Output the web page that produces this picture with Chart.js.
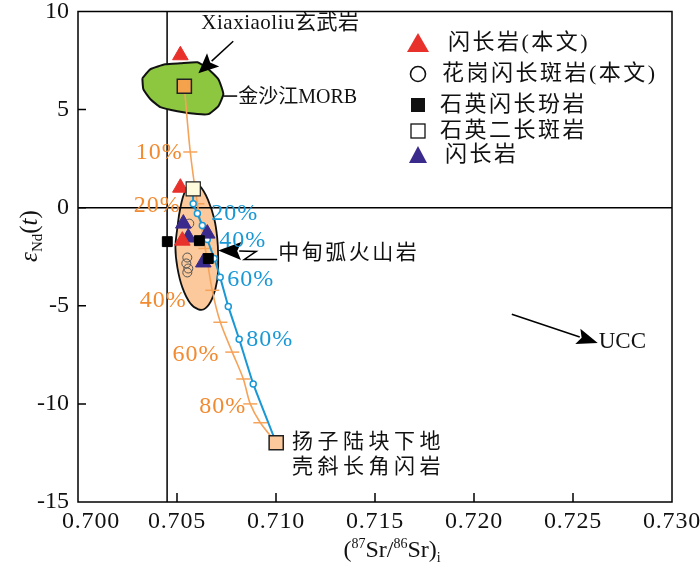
<!DOCTYPE html>
<html><head><meta charset="utf-8">
<script src="https://cdn.jsdelivr.net/npm/chart.js@4.4.0/dist/chart.umd.min.js"></script>
<style>html,body{margin:0;padding:0;background:#fff;}canvas{display:block;}</style>
</head><body>
<canvas id="c" width="700" height="568"></canvas>
<script>
// ---------- data ----------
const xTickValues = [0.700, 0.705, 0.710, 0.715, 0.720, 0.725, 0.730];
const xTickLabels = ['0.700', '0.705', '0.710', '0.715', '0.720', '0.725', '0.730'];
const yTickValues = [10, 5, 0, -5, -10, -15];
const yTickLabels = ['10', '5', '0', '-5', '-10', '-15'];

// 闪长岩(本文)
const dioriteThisX = [0.70517, 0.70517, 0.70527];
const dioriteThisY = [7.77, 1.02, -1.68];
// 花岗闪长斑岩(本文)
const granodioriteX = [0.70562, 0.70552, 0.70547, 0.70557, 0.70552];
const granodioriteY = [-0.81, -2.54, -2.84, -3.10, -3.30];
// 石英闪长玢岩
const qzPorphyriteX = [0.70451, 0.70613, 0.70658];
const qzPorphyriteY = [-1.73, -1.68, -2.59];
// 石英二长斑岩
const qzMonzoX = [0.70582];
const qzMonzoY = [0.96];
// 闪长岩
const dioriteX = [0.70532, 0.70557, 0.70653, 0.70633];
const dioriteY = [-0.81, -1.52, -1.32, -2.79];
// end members: 金沙江MORB, 扬子陆块下地壳斜长角闪岩
const morbEndX = [0.70537];
const morbEndY = [6.19];
const crustEndX = [0.71001];
const crustEndY = [-11.98];

// mixing curves (0%,10%,...,100%)
const orangeMixX = [0.70537, 0.70567, 0.70603, 0.70643, 0.70678, 0.70719, 0.70779, 0.70835, 0.70870, 0.70921, 0.71001];
const orangeMixY = [6.19, 2.84, 0.20, -2.08, -4.21, -5.84, -7.36, -8.73, -10.00, -10.96, -11.98];
const blueMixX = [0.70582, 0.70582, 0.70603, 0.70628, 0.70653, 0.70688, 0.70718, 0.70759, 0.70814, 0.70885, 0.71001];
const blueMixY = [0.96, 0.20, -0.30, -0.91, -1.62, -2.59, -3.55, -5.03, -6.70, -8.98, -11.98];
const orangeLabels = ['10%', '20%', '40%', '60%', '80%'];
const orangeLabelX = [0.70292, 0.70282, 0.70312, 0.70477, 0.70612];
const orangeLabelY = [2.79, 0.10, -4.72, -7.51, -10.15];
const blueLabels = ['20%', '40%', '60%', '80%'];
const blueLabelX = [0.70673, 0.70713, 0.70754, 0.70850];
const blueLabelY = [-0.30, -1.67, -3.65, -6.75];

// fields
const morbFieldX = [0.70325, 0.70366, 0.70441, 0.70517, 0.70603, 0.70653, 0.70709, 0.70734, 0.70709, 0.70658, 0.70603, 0.70502, 0.70416, 0.70366, 0.70330, 0.70325];
const morbFieldY = [6.60, 7.06, 7.31, 7.36, 7.41, 7.11, 6.55, 5.79, 5.18, 4.77, 4.77, 4.92, 5.13, 5.53, 6.04, 6.60];
const arcFieldX = [0.70578, 0.70618, 0.70658, 0.70688, 0.70703, 0.70708, 0.70703, 0.70678, 0.70643, 0.70608, 0.70567, 0.70527, 0.70502, 0.70492, 0.70502, 0.70517, 0.70542, 0.70578];
const arcFieldY = [1.27, 1.07, 0.36, -0.56, -1.52, -2.54, -3.71, -4.62, -5.13, -5.18, -4.87, -4.06, -3.05, -2.03, -1.02, 0.00, 0.86, 1.27];

// reference lines
const refVX = [0.7045, 0.7045];
const refVY = [10, -15];
const refHX = [0.700, 0.730];
const refHY = [0, 0];

const legendLabels = ['闪长岩(本文)', '花岗闪长斑岩(本文)', '石英闪长玢岩', '石英二长斑岩', '闪长岩'];

// ---------- styles ----------
const SERIF = "'Liberation Serif','Times New Roman',serif";
const MIXED = "'Liberation Serif','Noto Sans CJK SC',serif";
const ORANGE_LINE = '#f6a35a';
const ORANGE_TEXT = '#f28a30';
const BLUE = '#1a98d5';
const RED = '#e8312b';
const PURPLE = '#3a2a8c';

function pts(xs, ys) { return xs.map((x, i) => ({ x: x, y: ys[i] })); }

const datasets = [
  { data: pts(refVX, refVY), showLine: true, borderColor: '#000', borderWidth: 1.5, pointRadius: 0, order: 100 },
  { data: pts(morbFieldX, morbFieldY), showLine: true, fill: 'shape', backgroundColor: '#8dc63f', borderColor: '#111', borderWidth: 2, pointRadius: 0, tension: 0.15, order: 90 },
  { data: pts(arcFieldX, arcFieldY), showLine: true, fill: 'shape', backgroundColor: '#fbc99b', borderColor: '#111', borderWidth: 1.8, pointRadius: 0, tension: 0.4, order: 80 },
  { data: pts(refHX, refHY), showLine: true, borderColor: '#000', borderWidth: 1.5, pointRadius: 0, order: 70 },
  { data: pts(orangeMixX, orangeMixY), showLine: true, borderColor: ORANGE_LINE, borderWidth: 1.6, tension: 0.3,
    pointStyle: 'line', pointBorderColor: ORANGE_LINE, pointBorderWidth: 1.5,
    pointRadius: c => (c.dataIndex === 0 || c.dataIndex === orangeMixX.length - 1) ? 0 : 7, order: 60 },
  { data: pts(blueMixX, blueMixY), showLine: true, borderColor: BLUE, borderWidth: 2, tension: 0.15,
    pointStyle: 'circle', pointBackgroundColor: '#fff', pointBorderColor: BLUE, pointBorderWidth: 1.5,
    pointRadius: c => (c.dataIndex === 0 || c.dataIndex === blueMixX.length - 1) ? 0 : 3, order: 50 },
  { data: pts(granodioriteX, granodioriteY), pointStyle: 'circle', pointRadius: 4.5, backgroundColor: 'rgba(0,0,0,0)', borderColor: '#555', borderWidth: 1, order: 40 },
  { data: pts(dioriteX, dioriteY), pointStyle: 'triangle', pointRadius: 9, backgroundColor: PURPLE, borderColor: PURPLE, borderWidth: 1, order: 35 },
  { data: pts(dioriteThisX, dioriteThisY), pointStyle: 'triangle', pointRadius: 9, backgroundColor: RED, borderColor: RED, borderWidth: 1, order: 30 },
  { data: pts(qzPorphyriteX, qzPorphyriteY), pointStyle: 'rect', pointRadius: 7, backgroundColor: '#000', borderColor: '#000', borderWidth: 1, order: 25 },
  { data: pts(qzMonzoX, qzMonzoY), pointStyle: 'rect', pointRadius: 10, backgroundColor: '#fffbdc', borderColor: '#222', borderWidth: 1.2, order: 20 },
  { data: pts(morbEndX, morbEndY), pointStyle: 'rect', pointRadius: 10, backgroundColor: '#f4a24c', borderColor: '#222', borderWidth: 1.5, order: 15 },
  { data: pts(crustEndX, crustEndY), pointStyle: 'rect', pointRadius: 10, backgroundColor: '#fbc99b', borderColor: '#222', borderWidth: 1.5, order: 10 }
];

// ---------- annotations (data coordinates) ----------
const textNotes = [
  { t: 'Xiaxiaoliu玄武岩', x: 0.70623, y: 9.39, font: '21px ' + MIXED, color: '#111', sp: 0.5 },
  { t: '金沙江MORB', x: 0.70809, y: 5.58, font: '20px ' + MIXED, color: '#111', sp: 0 },
  { t: '中甸弧火山岩', x: 0.71011, y: -2.33, font: '21px ' + MIXED, color: '#111', sp: 2.5 },
  { t: '扬子陆块下地', x: 0.71081, y: -11.98, font: '21px ' + MIXED, color: '#111', sp: 4.5 },
  { t: '壳斜长角闪岩', x: 0.71081, y: -13.25, font: '21px ' + MIXED, color: '#111', sp: 4.5 },
  { t: 'UCC', x: 0.72630, y: -6.85, font: '23px ' + SERIF, color: '#111', sp: 0 }
];
const arrows = [
  { pts: [[0.70784, 8.48], [0.70608, 6.85]], head: 20, hw: 9 },
  { pts: [[0.71006, -2.64], [0.70840, -2.64], [0.70900, -2.23], [0.70708, -2.18]], head: 23, hw: 9 },
  { pts: [[0.72191, -5.43], [0.72625, -6.90]], head: 21, hw: 8 }
];
const plainLines = [ [[0.70734, 5.69], [0.70804, 5.69]] ];

function drawText(ctx, s, x, y, font, color, align, sp) {
  ctx.save();
  ctx.font = font; ctx.fillStyle = color; ctx.textAlign = align || 'left'; ctx.textBaseline = 'middle';
  if ('letterSpacing' in ctx) ctx.letterSpacing = (sp || 0) + 'px';
  ctx.fillText(s, x, y);
  ctx.restore();
}

const annot = {
  id: 'annot',
  afterDatasetsDraw(chart) {
    const ctx = chart.ctx, xs = chart.scales.x, ys = chart.scales.y;
    const P = p => [xs.getPixelForValue(p[0]), ys.getPixelForValue(p[1])];
    ctx.save();
    ctx.strokeStyle = '#000'; ctx.fillStyle = '#000'; ctx.lineWidth = 1.5;
    plainLines.forEach(l => {
      ctx.beginPath(); const a = P(l[0]), b = P(l[1]);
      ctx.moveTo(a[0], a[1]); ctx.lineTo(b[0], b[1]); ctx.stroke();
    });
    arrows.forEach(ar => {
      const px = ar.pts.map(P);
      const tip = px[px.length - 1], prev = px[px.length - 2];
      const dx = tip[0] - prev[0], dy = tip[1] - prev[1], L = Math.hypot(dx, dy);
      const ux = dx / L, uy = dy / L;
      const bx = tip[0] - ux * ar.head, by = tip[1] - uy * ar.head;
      ctx.beginPath(); ctx.moveTo(px[0][0], px[0][1]);
      for (let i = 1; i < px.length - 1; i++) ctx.lineTo(px[i][0], px[i][1]);
      ctx.lineTo(bx + ux * 2, by + uy * 2); ctx.stroke();
      ctx.beginPath(); ctx.moveTo(tip[0], tip[1]);
      ctx.lineTo(bx - uy * ar.hw, by + ux * ar.hw);
      ctx.lineTo(bx + ux * 4, by + uy * 4);
      ctx.lineTo(bx + uy * ar.hw, by - ux * ar.hw);
      ctx.closePath(); ctx.fill();
    });
    ctx.restore();
    textNotes.forEach(n => drawText(ctx, n.t, xs.getPixelForValue(n.x), ys.getPixelForValue(n.y), n.font, n.color, 'left', n.sp));
    orangeLabels.forEach((t, i) => drawText(ctx, t, xs.getPixelForValue(orangeLabelX[i]), ys.getPixelForValue(orangeLabelY[i]), '24px ' + SERIF, ORANGE_TEXT, 'left', 1));
    blueLabels.forEach((t, i) => drawText(ctx, t, xs.getPixelForValue(blueLabelX[i]), ys.getPixelForValue(blueLabelY[i]), '24px ' + SERIF, BLUE, 'left', 1));
  },
  afterDraw(chart) {
    const ctx = chart.ctx, a = chart.chartArea, xs = chart.scales.x, ys = chart.scales.y;
    ctx.save();
    // frame
    ctx.strokeStyle = '#000'; ctx.lineWidth = 1.5;
    ctx.strokeRect(a.left, a.top, a.right - a.left, a.bottom - a.top);
    // inner ticks
    ctx.beginPath();
    yTickValues.forEach(v => { if (v < 10 && v > -15) { const y = ys.getPixelForValue(v); ctx.moveTo(a.left, y); ctx.lineTo(a.left + 8, y); } });
    xTickValues.forEach(v => { if (v > 0.700 && v < 0.730) { const x = xs.getPixelForValue(v); ctx.moveTo(x, a.bottom); ctx.lineTo(x, a.bottom - 9); } });
    ctx.stroke();
    // x tick labels
    xTickValues.forEach((v, i) => {
      const x = xs.getPixelForValue(v);
      if (i === 0) drawText(ctx, xTickLabels[i], x - 16, a.bottom + 20, '24px ' + SERIF, '#111', 'left', 0.8);
      else drawText(ctx, xTickLabels[i], x, a.bottom + 20, '24px ' + SERIF, '#111', 'center', 0.8);
    });
    // x title (87Sr/86Sr)i
    const xt = [
      { t: '(', f: '24px ' + SERIF, dy: 0 }, { t: '87', f: '14px ' + SERIF, dy: -9 },
      { t: 'Sr/', f: '24px ' + SERIF, dy: 0 }, { t: '86', f: '14px ' + SERIF, dy: -9 },
      { t: 'Sr)', f: '24px ' + SERIF, dy: 0 }, { t: 'i', f: '14px ' + SERIF, dy: 5 }];
    let w = 0; xt.forEach(p => { ctx.font = p.f; p.w = ctx.measureText(p.t).width; w += p.w; });
    let cx = 392 - w / 2; ctx.fillStyle = '#111'; ctx.textBaseline = 'alphabetic'; ctx.textAlign = 'left';
    xt.forEach(p => { ctx.font = p.f; ctx.fillText(p.t, cx, 557 + p.dy); cx += p.w; });
    // y title εNd(t)
    ctx.save(); ctx.translate(30, 236); ctx.rotate(-Math.PI / 2);
    const yt = [
      { t: 'ε', f: 'italic 25px ' + SERIF, dy: 0 }, { t: 'Nd', f: '15px ' + SERIF, dy: 5 },
      { t: '(', f: '25px ' + SERIF, dy: 0 }, { t: 't', f: 'italic 25px ' + SERIF, dy: 0 },
      { t: ')', f: '25px ' + SERIF, dy: 0 }];
    w = 0; yt.forEach(p => { ctx.font = p.f; p.w = ctx.measureText(p.t).width; w += p.w; });
    cx = -w / 2;
    yt.forEach(p => { ctx.font = p.f; ctx.fillText(p.t, cx, 7 + p.dy); cx += p.w; });
    ctx.restore();
    // legend
    const lx = 418, ly = [43, 74, 105, 131, 155], tx = [448, 442, 440, 440, 445];
    ctx.fillStyle = RED; ctx.beginPath(); ctx.moveTo(lx, ly[0] - 10); ctx.lineTo(lx + 11, ly[0] + 9); ctx.lineTo(lx - 11, ly[0] + 9); ctx.closePath(); ctx.fill();
    ctx.strokeStyle = '#111'; ctx.lineWidth = 1.6; ctx.beginPath(); ctx.arc(lx, ly[1], 7.5, 0, Math.PI * 2); ctx.stroke();
    ctx.fillStyle = '#111'; ctx.fillRect(lx - 7, ly[2] - 7, 14, 14);
    ctx.lineWidth = 1.3; ctx.strokeRect(lx - 7, ly[3] - 7, 14, 14);
    ctx.fillStyle = PURPLE; ctx.beginPath(); ctx.moveTo(lx, ly[4] - 9); ctx.lineTo(lx + 9, ly[4] + 8); ctx.lineTo(lx - 9, ly[4] + 8); ctx.closePath(); ctx.fill();
    ctx.restore();
    legendLabels.forEach((t, i) => drawText(ctx, t, tx[i], ly[i], '22px ' + MIXED, '#111', 'left', 2.5));
  }
};

new Chart(document.getElementById('c'), {
  type: 'scatter',
  data: { datasets: datasets },
  options: {
    responsive: false, animation: false,
    layout: { padding: { top: 10, right: 28, left: 0, bottom: 0 } },
    plugins: { legend: { display: false }, tooltip: { enabled: false } },
    elements: { point: { hoverRadius: 0 } },
    datasets: { scatter: { clip: false } },
    scales: {
      x: {
        type: 'linear', min: 0.700, max: 0.730,
        afterBuildTicks: s => { s.ticks = xTickValues.map(v => ({ value: v })); },
        ticks: { display: false },
        grid: { display: false, drawTicks: false }, border: { display: false },
        afterFit: s => { s.height = 66; s.paddingLeft = 0; s.paddingRight = 0; }
      },
      y: {
        type: 'linear', min: -15, max: 10,
        afterBuildTicks: s => { s.ticks = yTickValues.map(v => ({ value: v })); },
        ticks: { color: '#111', font: { family: SERIF, size: 24 }, padding: 9,
          callback: (v) => { const i = yTickValues.indexOf(v); return i >= 0 ? yTickLabels[i] : ''; } },
        grid: { display: false, drawTicks: false }, border: { display: false },
        afterFit: s => { s.width = 78; s.paddingTop = 0; s.paddingBottom = 0; }
      }
    }
  },
  plugins: [annot]
});
</script>
</body></html>
